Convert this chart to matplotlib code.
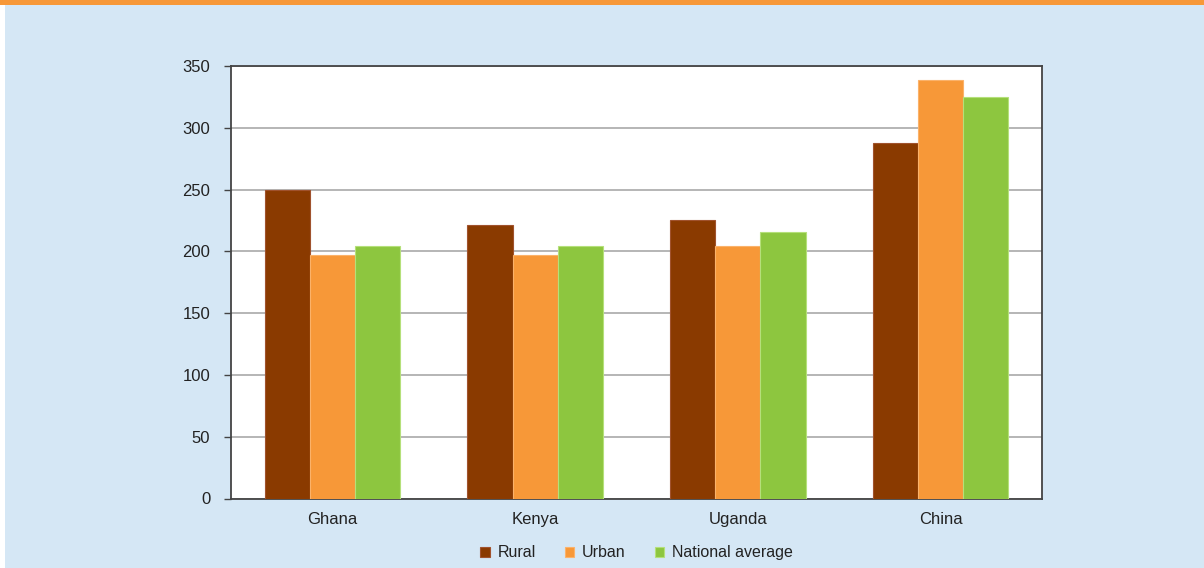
import matplotlib
matplotlib.use("Agg")
import matplotlib.pyplot as plt
import numpy as np
from matplotlib.patches import Rectangle

plt.rcParams['font.family'] = ['Liberation Sans Narrow', 'Liberation Sans', 'DejaVu Sans']

categories = ["Ghana", "Kenya", "Uganda", "China"]
series_names = ["Rural", "Urban", "National average"]
rural = [250, 221, 225, 288]
urban = [197, 197, 204, 339]
national = [204, 204, 216, 325]
yticks = [0, 50, 100, 150, 200, 250, 300, 350]

colors = ["#8a3a00", "#f79838", "#8dc63f"]
edge_colors = ["#a0522d", "#fbb26a", "#b5e07a"]

W, H = 1204, 568
fig = plt.figure(figsize=(W / 100, H / 100), dpi=100)
fig.patch.set_facecolor("white")

# background panels
fig.add_artist(Rectangle((5 / W, 0), 1 - 5 / W, 1, transform=fig.transFigure,
                         facecolor="#d5e7f5", edgecolor="none", zorder=-10))
fig.add_artist(Rectangle((0, 1 - 5 / H), 1, 5 / H, transform=fig.transFigure,
                         facecolor="#f79838", edgecolor="none", zorder=-9))

ax = fig.add_axes([231 / W, 69.5 / H, (1042 - 231) / W, (498.5 - 66) / H])
ax.set_facecolor("white")

x = np.arange(len(categories))
bw = 0.223
for i, (vals, c, ec) in enumerate(zip([rural, urban, national], colors, edge_colors)):
    ax.bar(x + (i - 1) * bw, vals, width=bw, color=c, edgecolor=ec, linewidth=0.8,
           label=series_names[i], zorder=3)

ax.set_xlim(-0.5, len(categories) - 0.5)
ax.set_ylim(0, 350)
ax.set_yticks(yticks)
ax.set_yticklabels([str(v) for v in yticks], fontsize=12, color="#222222")
ax.yaxis.grid(True, color="#b0b0b0", linewidth=1.3, zorder=0)
ax.set_axisbelow(True)
ax.tick_params(axis="y", length=5, width=1, color="#444444", pad=10)
ax.set_xticks(x)
ax.set_xticklabels(categories, fontsize=12, color="#222222")
ax.tick_params(axis="x", length=0, pad=10)
for s in ax.spines.values():
    s.set_color("#444444")
    s.set_linewidth(1.3)

leg = ax.legend(loc="upper center", bbox_to_anchor=(0.5, -0.075), ncol=3, frameon=False,
                fontsize=11.5, handlelength=0.6, handleheight=0.6, handletextpad=0.5,
                columnspacing=1.8)
for t in leg.get_texts():
    t.set_color("#222222")

fig.savefig("out.png", dpi=100)
